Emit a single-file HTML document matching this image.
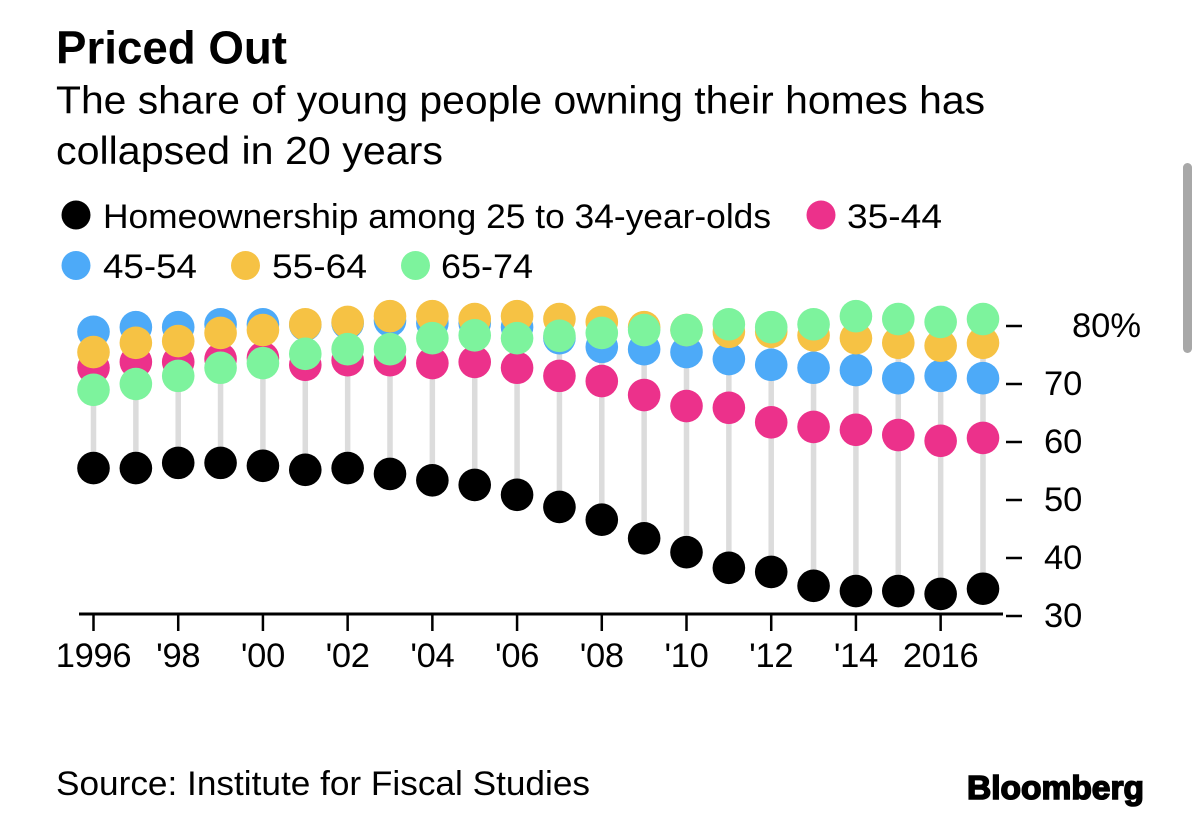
<!DOCTYPE html>
<html>
<head>
<meta charset="utf-8">
<style>
html,body{margin:0;padding:0;background:#fff;width:1200px;height:835px;overflow:hidden}
svg{display:block}
text{font-family:"Liberation Sans",sans-serif;fill:#000}
</style>
</head>
<body>
<svg id="chart" width="1200" height="835" viewBox="0 0 1200 835" xmlns="http://www.w3.org/2000/svg">
  <text x="56" y="63.500" font-size="46" font-weight="700" textLength="231" lengthAdjust="spacingAndGlyphs">Priced Out</text>
  <text x="56" y="113.500" font-size="38.500" textLength="929" lengthAdjust="spacingAndGlyphs">The share of young people owning their homes has</text>
  <text x="56" y="164" font-size="38.500" textLength="387" lengthAdjust="spacingAndGlyphs">collapsed in 20 years</text>

  <g>
    <circle cx="76" cy="215" r="14.500" fill="#000"/>
    <text x="103" y="228" font-size="34.500" textLength="668" lengthAdjust="spacingAndGlyphs">Homeownership among 25 to 34-year-olds</text>
    <circle cx="821" cy="215" r="14.500" fill="#ec318b"/>
    <text x="847" y="228" font-size="34.500" textLength="95" lengthAdjust="spacingAndGlyphs">35-44</text>
    <circle cx="76" cy="265.500" r="14.500" fill="#4daaf8"/>
    <text x="103" y="278" font-size="34.500" textLength="94" lengthAdjust="spacingAndGlyphs">45-54</text>
    <circle cx="245.500" cy="265.500" r="14.500" fill="#f6c244"/>
    <text x="272" y="278" font-size="34.500" textLength="95" lengthAdjust="spacingAndGlyphs">55-64</text>
    <circle cx="415.500" cy="265.500" r="14.500" fill="#7df39d"/>
    <text x="441" y="278" font-size="34.500" textLength="92" lengthAdjust="spacingAndGlyphs">65-74</text>
  </g>

  <g id="stems"></g>
  <g id="dots"></g>
  <g id="x-axis"></g>
  <g id="y-axis"></g>

  <text x="56" y="795" font-size="34" textLength="534" lengthAdjust="spacingAndGlyphs">Source: Institute for Fiscal Studies</text>
  <text x="967" y="799" font-size="33.500" font-weight="700" stroke="#000" stroke-width="1.600" textLength="177" lengthAdjust="spacingAndGlyphs">Bloomberg</text>
  <rect x="1183" y="163" width="9" height="190" rx="4.500" fill="#a8a8a8"/>
</svg>
<script>
const years = [1996,1997,1998,1999,2000,2001,2002,2003,2004,2005,2006,2007,2008,2009,2010,2011,2012,2013,2014,2015,2016,2017];
const age25to34 = [55.5,55.5,56.4,56.4,55.9,55.2,55.5,54.5,53.4,52.6,50.9,48.8,46.6,43.4,41.0,38.3,37.6,35.2,34.3,34.3,33.8,34.7];
const age35to44 = [72.8,73.8,73.8,74.3,74.5,73.3,74.1,74.1,73.6,73.8,72.8,71.4,70.5,68.1,66.2,65.9,63.4,62.6,62.1,61.2,60.2,60.7];
const age45to54 = [79.0,79.8,79.8,80.3,80.3,80.2,80.5,80.9,80.5,80.5,79.8,77.9,76.4,76.0,75.5,74.3,73.3,72.8,72.4,71.0,71.4,71.0];
const age55to64 = [75.5,77.1,77.4,78.8,79.3,80.3,80.7,81.7,81.7,81.2,81.7,81.2,80.7,79.8,79.3,79.0,79.0,78.4,77.9,77.1,76.6,77.1];
const age65to74 = [69.0,70.0,71.4,72.8,73.6,75.2,76.0,76.0,77.9,78.4,77.9,78.3,78.8,79.3,79.3,80.3,79.8,80.3,81.7,81.2,80.7,81.2];
const xTickYears = [1996,1998,2000,2002,2004,2006,2008,2010,2012,2014,2016];
const xTickLabels = ["1996","'98","'00","'02","'04","'06","'08","'10","'12","'14","2016"];
const yTickValues = [30,40,50,60,70,80];
const yTickLabels = ["30","40","50","60","70","80%"];

const SVG_NS = 'http://www.w3.org/2000/svg';
function xScale(year){ return 93.5 + (year - 1996) * (889.5 / 21); }
function yScale(value){ return 616 - (value - 30) * 5.8; }
function make(tag, attrs, parent){
  const el = document.createElementNS(SVG_NS, tag);
  for (const k in attrs) el.setAttribute(k, attrs[k]);
  parent.appendChild(el);
  return el;
}

const stems = document.getElementById('stems');
const dots = document.getElementById('dots');
const xAxis = document.getElementById('x-axis');
const yAxis = document.getElementById('y-axis');

years.forEach(function(year, i){
  const top = Math.max(age25to34[i], age35to44[i], age45to54[i], age55to64[i], age65to74[i]);
  const stem = make('line', {x1:xScale(year), x2:xScale(year), y1:yScale(age25to34[i]), y2:yScale(top), stroke:'#dcdcdc', 'stroke-width':5.5}, stems);
  
  
});

function drawSeries(values, color, seriesName){
  values.forEach(function(value, i){
    const dot = make('circle', {cx:xScale(years[i]), cy:yScale(value), r:16.3, fill:color}, dots);
    
    
  });
}
drawSeries(age25to34, '#000000', 'age-25-34');
drawSeries(age35to44, '#ec318b', 'age-35-44');
drawSeries(age45to54, '#4daaf8', 'age-45-54');
drawSeries(age55to64, '#f6c244', 'age-55-64');
drawSeries(age65to74, '#7df39d', 'age-65-74');

const axisLine = make('line', {x1:79, x2:1003, y1:614, y2:614, stroke:'#000', 'stroke-width':3}, xAxis);



xTickYears.forEach(function(year, i){
  const tick = make('line', {x1:xScale(year), x2:xScale(year), y1:614, y2:631, stroke:'#000', 'stroke-width':2.5}, xAxis);
  
  
  const label = make('text', {x:xScale(year), y:667, 'font-size':34.5, 'text-anchor':'middle', 'letter-spacing':'-0.3'}, xAxis);
  label.textContent = xTickLabels[i];
  
  
});

yTickValues.forEach(function(value, i){
  const tick = make('line', {x1:1006, x2:1022, y1:yScale(value), y2:yScale(value), stroke:'#000', 'stroke-width':2.5}, yAxis);
  
  
  const labelX = yTickLabels[i].indexOf('%') >= 0 ? 1072 : 1044;
  const label = make('text', {x:labelX, y:yScale(value) + 11, 'font-size':34.5}, yAxis);
  label.textContent = yTickLabels[i];
  
  
});
</script>
</body>
</html>
